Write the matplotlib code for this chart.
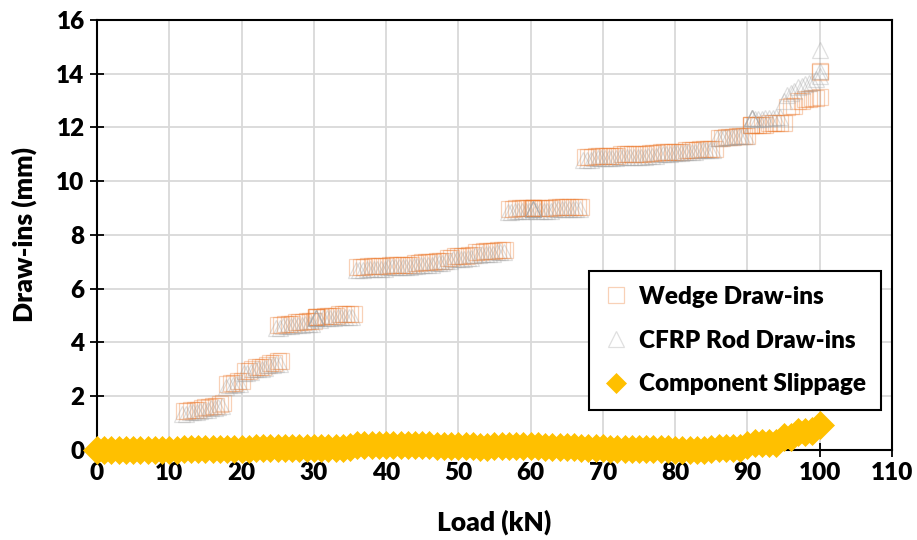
import matplotlib.pyplot as plt

# wedge draw-ins (squares)
wedge_load = [0, 0.5, 1.0,
              12.0, 12.5, 13.0, 13.5, 14.0, 14.5, 15.0, 15.5, 16.0, 16.5, 17.0, 17.5,
              18.0, 18.5, 19.0, 19.5, 20.0,
              20.5, 21.0, 21.5,
              22.0, 22.5, 23.0, 23.5,
              24.0, 24.5, 25.0, 25.5,
              25.0, 25.5, 26.0, 26.5, 27.0, 27.5, 28.0, 28.5, 29.0, 29.5, 30.0,
              30.3, 30.3, 30.3, 30.5, 31.0, 31.5, 32.0, 32.5, 33.0, 33.5, 34.0, 34.5, 35.0, 35.5,
              36.0, 36.5, 37.0, 37.5, 38.0, 38.5, 39.0, 39.5, 40.0, 40.5, 41.0, 41.5, 42.0, 42.5, 43.0, 43.5,
              44.0, 44.5, 45.0, 45.5, 46.0, 46.5, 47.0, 47.5, 48.0,
              48.5, 49.0, 49.5, 50.0, 50.5, 51.0, 51.5, 52.0,
              52.5, 53.0, 53.5, 54.0, 54.5, 55.0, 55.5, 56.0, 56.5,
              57.0, 57.5, 58.0, 58.5, 59.0, 59.5, 60.0, 60.3, 60.3, 60.3, 60.5, 61.0, 61.5, 62.0, 62.5,
              63.0, 63.5, 64.0, 64.5, 65.0, 65.5, 66.0, 66.5, 67.0,
              67.5, 68.0, 68.5, 69.0, 69.5, 70.0, 70.5, 71.0, 71.5, 72.0, 72.5, 73.0, 73.5, 74.0, 74.5,
              75.0, 75.5, 76.0,
              76.5, 77.0, 77.5, 78.0, 78.5, 79.0, 79.5, 80.0, 80.5, 81.0, 81.5, 82.0, 82.5, 83.0, 83.5,
              84.0, 84.5, 85.0, 85.5,
              86.0, 86.5, 87.0, 87.5, 88.0, 88.5, 89.0, 89.5, 90.0,
              90.5, 90.5, 90.5, 91.0, 91.5, 92.0, 92.5, 93.0, 93.5, 94.0, 94.5, 95.0,
              95.5, 96.0, 96.5,
              97.0, 97.5, 98.0, 98.5, 99.0, 99.5,
              100.0, 100.0, 100.0]
wedge_mm = [0, 0, 0,
            1.45, 1.45, 1.5, 1.5, 1.5, 1.55, 1.6, 1.6, 1.65, 1.65, 1.7, 1.75,
            2.45, 2.5, 2.5, 2.55, 2.55,
            2.95, 2.95, 3.0,
            3.1, 3.1, 3.1, 3.15,
            3.25, 3.25, 3.3, 3.3,
            4.65, 4.65, 4.7, 4.7, 4.7, 4.75, 4.75, 4.75, 4.8, 4.8, 4.8,
            4.95, 4.95, 4.95, 4.95, 4.95, 5.0, 5.0, 5.0, 5.0, 5.05, 5.05, 5.05, 5.05, 5.05,
            6.8, 6.8, 6.8, 6.85, 6.85, 6.85, 6.85, 6.85, 6.85, 6.9, 6.9, 6.9, 6.9, 6.9, 6.9, 6.9,
            6.95, 6.95, 7.0, 7.0, 7.0, 7.0, 7.05, 7.05, 7.05,
            7.15, 7.15, 7.2, 7.2, 7.2, 7.2, 7.25, 7.25,
            7.35, 7.35, 7.4, 7.4, 7.4, 7.4, 7.45, 7.45, 7.45,
            8.95, 8.95, 9.0, 9.0, 9.0, 9.0, 9.0, 9.0, 9.0, 9.0, 9.0, 9.0, 9.0, 9.0, 9.0,
            9.0, 9.05, 9.05, 9.05, 9.05, 9.05, 9.05, 9.05, 9.05,
            10.9, 10.9, 10.9, 10.95, 10.95, 10.95, 10.95, 10.95, 10.95, 10.95, 11.0, 11.0, 11.0, 11.0, 11.0,
            11.0, 11.0, 11.0,
            11.05, 11.05, 11.05, 11.1, 11.1, 11.1, 11.1, 11.1, 11.1, 11.1, 11.15, 11.15, 11.15, 11.15, 11.2,
            11.2, 11.2, 11.2, 11.2,
            11.6, 11.6, 11.65, 11.65, 11.65, 11.7, 11.7, 11.7, 11.7,
            12.1, 12.1, 12.1, 12.1, 12.1, 12.1, 12.1, 12.15, 12.15, 12.15, 12.15, 12.15,
            12.75, 12.8, 12.8,
            13.0, 13.0, 13.05, 13.05, 13.1, 13.1,
            13.15, 14.05, 14.1]

# CFRP rod draw-ins (triangles)
rod_load = [0, 0.5, 1.0,
            11.8, 12.3, 12.8, 13.3, 13.8, 14.3, 14.8, 15.3, 15.8, 16.3, 16.8, 17.3,
            17.8, 18.3, 18.8, 19.3, 19.8,
            20.3, 20.8, 21.3,
            21.8, 22.3, 22.8, 23.3,
            23.8, 24.3, 24.8, 25.3,
            24.8, 25.3, 25.8, 26.3, 26.8, 27.3, 27.8, 28.3, 28.8, 29.3, 29.8,
            30.3, 30.3, 30.3, 30.3, 30.8, 31.3, 31.8, 32.3, 32.8, 33.3, 33.8, 34.3, 34.8, 35.3,
            35.8, 36.3, 36.8, 37.3, 37.8, 38.3, 38.8, 39.3, 39.8, 40.3, 40.8, 41.3, 41.8, 42.3, 42.8, 43.3,
            43.8, 44.3, 44.8, 45.3, 45.8, 46.3, 46.8, 47.3, 47.8,
            48.3, 48.8, 49.3, 49.8, 50.3, 50.8, 51.3, 51.8,
            52.3, 52.8, 53.3, 53.8, 54.3, 54.8, 55.3, 55.8, 56.3,
            56.8, 57.3, 57.8, 58.3, 58.8, 59.3, 59.8, 60.3, 60.3, 60.3, 60.3, 60.8, 61.3, 61.8, 62.3,
            62.8, 63.3, 63.8, 64.3, 64.8, 65.3, 65.8, 66.3, 66.8,
            67.3, 67.8, 68.3, 68.8, 69.3, 69.8, 70.3, 70.8, 71.3, 71.8, 72.3, 72.8, 73.3, 73.8, 74.3,
            74.8, 75.3, 75.8,
            76.3, 76.8, 77.3, 77.8, 78.3, 78.8, 79.3, 79.8, 80.3, 80.8, 81.3, 81.8, 82.3, 82.8, 83.3,
            83.8, 84.3, 84.8, 85.3,
            85.8, 86.3, 86.8, 87.3, 87.8, 88.3, 88.8, 89.3, 89.8,
            90.6, 90.6, 90.6, 90.6, 91.0, 91.5, 92.0, 92.5, 93.0, 93.5, 94.0, 94.5,
            95.0, 95.5, 96.0, 96.5,
            97.0, 97.5, 98.0, 98.5, 99.0, 99.5,
            100.0, 100.0, 100.0]
rod_mm = [0, 0, 0,
          1.35, 1.35, 1.4, 1.4, 1.4, 1.45, 1.5, 1.5, 1.55, 1.55, 1.6, 1.65,
          2.35, 2.4, 2.4, 2.45, 2.45,
          2.85, 2.85, 2.9,
          3.0, 3.0, 3.0, 3.05,
          3.15, 3.15, 3.2, 3.2,
          4.55, 4.55, 4.6, 4.6, 4.6, 4.65, 4.65, 4.65, 4.7, 4.7, 4.7,
          4.9, 4.9, 4.9, 4.9, 4.85, 4.9, 4.9, 4.9, 4.9, 4.95, 4.95, 4.95, 4.95, 4.95,
          6.7, 6.7, 6.7, 6.75, 6.75, 6.75, 6.75, 6.75, 6.75, 6.8, 6.8, 6.8, 6.8, 6.8, 6.8, 6.8,
          6.85, 6.85, 6.9, 6.9, 6.9, 6.9, 6.95, 6.95, 6.95,
          7.05, 7.05, 7.1, 7.1, 7.1, 7.1, 7.15, 7.15,
          7.25, 7.25, 7.3, 7.3, 7.3, 7.3, 7.35, 7.35, 7.35,
          8.85, 8.85, 8.9, 8.9, 8.9, 8.9, 8.9, 8.95, 8.95, 8.95, 8.95, 8.9, 8.9, 8.9, 8.9,
          8.9, 8.95, 8.95, 8.95, 8.95, 8.95, 8.95, 8.95, 8.95,
          10.8, 10.8, 10.8, 10.85, 10.85, 10.85, 10.85, 10.85, 10.85, 10.85, 10.9, 10.9, 10.9, 10.9, 10.9,
          10.9, 10.9, 10.9,
          10.95, 10.95, 10.95, 11.0, 11.0, 11.0, 11.0, 11.05, 11.05, 11.05, 11.1, 11.1, 11.1, 11.1, 11.15,
          11.15, 11.15, 11.15, 11.15,
          11.6, 11.6, 11.65, 11.65, 11.65, 11.7, 11.7, 11.7, 11.7,
          12.35, 12.35, 12.35, 12.35, 12.3, 12.3, 12.3, 12.35, 12.35, 12.35, 12.4, 12.4,
          13.0, 13.2, 13.3, 13.35,
          13.5, 13.55, 13.6, 13.65, 13.7, 13.8,
          13.9, 14.1, 14.9]

# component slippage (diamonds)
slip_load = [0, 1, 2, 3, 4, 5, 6, 7, 8, 9, 10, 11, 12, 13, 14, 15, 16, 17, 18, 19, 20,
             21, 22, 23, 24, 25, 26, 27, 28, 29, 30, 31, 32, 33, 34, 35, 36, 37, 38, 39, 40,
             41, 42, 43, 44, 45, 46, 47, 48, 49, 50, 51, 52, 53, 54, 55, 56, 57, 58, 59, 60,
             61, 62, 63, 64, 65, 66, 67, 68, 69, 70, 71, 72, 73, 74, 75, 76, 77, 78, 79, 80,
             81, 82, 83, 84, 85, 86, 87, 88, 89, 90, 91, 92, 93, 94, 95, 96, 97, 98, 99, 100]
slip_mm = [0, 0, 0, 0, 0, 0, 0.01, 0.01, 0.01, 0.01, 0.01, 0.01, 0.02, 0.02, 0.02, 0.02, 0.02, 0.03, 0.05, 0.05, 0.05,
           0.05, 0.06, 0.06, 0.06, 0.06, 0.06, 0.07, 0.07, 0.07, 0.07, 0.07, 0.07, 0.07, 0.07, 0.12, 0.17, 0.17, 0.17, 0.17, 0.17,
           0.17, 0.17, 0.17, 0.17, 0.17, 0.17, 0.16, 0.16, 0.16, 0.15, 0.15, 0.14, 0.12, 0.12, 0.13, 0.13, 0.13, 0.13, 0.13, 0.13,
           0.13, 0.12, 0.12, 0.12, 0.12, 0.1, 0.08, 0.07, 0.07, 0.06, 0.05, 0.05, 0.04, 0.04, 0.03, 0.03, 0.02, 0.02, 0.02, 0.01,
           0.01, 0.01, 0.0, 0.0, 0.03, 0.06, 0.07, 0.07, 0.07, 0.2, 0.25, 0.25, 0.26, 0.27, 0.48, 0.5, 0.67, 0.68, 0.72, 0.93]

orange = (0.929, 0.490, 0.192, 0.35)
grey = (0.647, 0.647, 0.647, 0.35)
gold = '#FFC000'

plt.rcParams['font.family'] = ['Lato', 'DejaVu Sans']
plt.rcParams['font.weight'] = 'bold'

fig = plt.figure(figsize=(9.17, 5.4), dpi=100)
ax = fig.add_axes([0.1058, 0.1667, 0.8669, 0.7963])

ax.plot(wedge_load, wedge_mm, linestyle='none', marker='s', markersize=11.5,
        markerfacecolor='none', markeredgecolor=orange, markeredgewidth=0.9,
        label='Wedge Draw-ins', zorder=3)
ax.plot(rod_load, rod_mm, linestyle='none', marker='^', markersize=11.5,
        markerfacecolor='none', markeredgecolor=grey, markeredgewidth=0.9,
        label='CFRP Rod Draw-ins', zorder=3)
ax.plot(slip_load, slip_mm, linestyle='none', marker='D', markersize=14,
        markerfacecolor=gold, markeredgecolor=gold, markeredgewidth=0.5,
        label='Component Slippage', zorder=4, clip_on=False)

ax.set_xlim(0, 110)
ax.set_ylim(0, 16)
ax.set_xticks(range(0, 111, 10))
ax.set_yticks(range(0, 17, 2))
ax.grid(True, color='#D9D9D9', linewidth=1.3)
ax.set_axisbelow(True)
for s in ax.spines.values():
    s.set_color('black')
    s.set_linewidth(1.5)
ax.tick_params(direction='inout', length=10, width=1.3, labelsize=17.5, pad=4)
for lab in ax.get_xticklabels() + ax.get_yticklabels():
    lab.set_fontweight('heavy')

ax.set_xlabel('Load (kN)', fontsize=19, fontweight='heavy', labelpad=18)
ax.set_ylabel('Draw-ins (mm)', fontsize=19, fontweight='heavy', labelpad=14)

leg = ax.legend(loc='lower right', bbox_to_anchor=(0.986, 0.093), fontsize=17.5,
                frameon=True, fancybox=False, edgecolor='black', framealpha=1,
                handlelength=1.0, handletextpad=0.45, labelspacing=0.9,
                borderpad=0.6, borderaxespad=0)
leg.get_frame().set_linewidth(1.5)
for t in leg.get_texts():
    t.set_fontweight('heavy')
leg.legend_handles[2].set_markersize(10)

fig.savefig('out.png', dpi=100)
